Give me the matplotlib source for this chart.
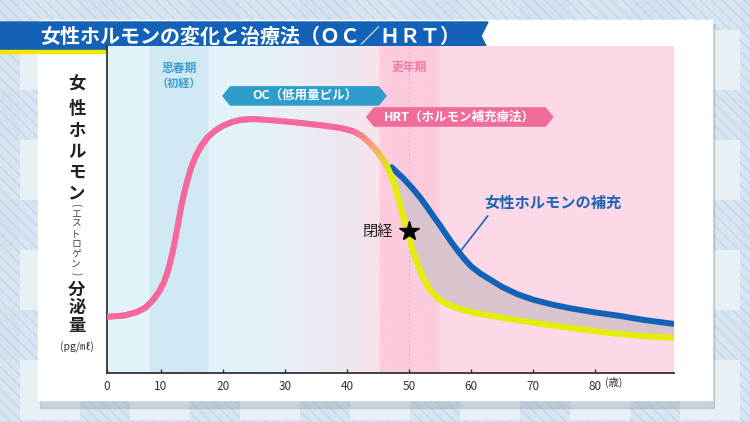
import numpy as np
import matplotlib.pyplot as plt
from matplotlib.collections import LineCollection
from matplotlib.patches import Rectangle, Polygon
from matplotlib.colors import to_rgb

plt.rcParams['font.family'] = ['Noto Sans CJK JP', 'DejaVu Sans']

# estrogen level (relative) by age - natural course
age_main = [1.3, 4, 6, 7.5, 8.7, 9.7, 10.5, 11.2, 11.9, 12.6, 13.3, 14, 14.8, 15.6,
            16.5, 17.5, 18.7, 20, 21.5, 23, 25, 28, 32, 36, 39, 41, 42.5, 43.7,
            44.8, 45.8, 46.6, 47.4, 48.2, 49, 49.8, 50.6, 51.5, 52.5, 53.5, 54.7,
            56.1, 58, 60.3, 63, 66, 71, 77, 82, 87, 92.7]
level_main = [17.6, 18.0, 19.0, 20.5, 22.8, 25.5, 28.5, 32.5, 38.0, 45.0, 52.5, 58.5,
              64.0, 68.0, 71.2, 73.8, 75.9, 77.5, 78.7, 79.4, 79.6, 79.2, 78.5, 77.6,
              76.8, 75.8, 74.2, 72.0, 69.6, 67.0, 64.2, 60.5, 55.5, 49.5, 44.0, 38.5,
              33.5, 29.0, 25.8, 23.3, 21.6, 20.2, 19.0, 18.0, 17.0, 15.5, 13.9, 12.6,
              11.7, 11.0]
# with hormone replacement
age_hrt = [47.2, 48, 49, 50, 51, 52, 53, 54, 55, 56, 57, 58, 59, 60, 61.5, 63, 65,
           67.5, 70, 73, 76, 80, 84, 88, 92.7]
level_hrt = [64.5, 63.0, 61.2, 59.1, 56.9, 54.5, 51.8, 49.0, 46.3, 43.4, 40.6, 38.0,
             35.6, 33.5, 31.2, 29.4, 27.0, 24.7, 23.0, 21.5, 20.3, 19.0, 17.9, 16.6, 15.4]

tick_ages = [10, 20, 30, 40, 50, 60, 70, 80]
puberty = (8.2, 17.6)
menopause_span = (45.3, 55.0)
menopause_age = 50
menopause_level = 44.5

title = '女性ホルモンの変化と治療法（ＯＣ／ＨＲＴ）'

W, H = 750, 422
fig = plt.figure(figsize=(7.5, 4.22), dpi=100)

# ---- decorative background (pixel coords) ----
bg = fig.add_axes([0, 0, 1, 1])
bg.set_xlim(0, W)
bg.set_ylim(H, 0)
bg.axis('off')
bg.add_patch(Rectangle((0, 0), W, H, color='#e8f0f6', zorder=0))
for x0 in range(-30, W, 110):
    bg.add_patch(Rectangle((x0, 0), 50, H, facecolor='#d3e2ef', edgecolor='#bcd2e7',
                           hatch='\\\\\\', lw=0, alpha=0.75, zorder=1))
for y0 in range(-20, H, 110):
    bg.add_patch(Rectangle((0, y0), W, 50, facecolor='#d3e2ef', edgecolor='#bcd2e7',
                           hatch='\\\\\\', lw=0, alpha=0.75, zorder=1))
bg.add_patch(Rectangle((40, 24), 674, 384, color='#8c9aa8', alpha=0.35, zorder=2))
bg.add_patch(Rectangle((38, 20), 674, 380, color='white', zorder=3))
bg.add_patch(Polygon([(0, 22), (488, 22), (481, 36), (488, 50), (0, 50)],
                     color='#1462b8', zorder=4))
bg.add_patch(Rectangle((0, 50), 488, 3, color='#f2e600', zorder=4))
bg.text(40, 36.5, title, color='white', fontsize=14.4, fontweight='bold',
        va='center', ha='left', zorder=5)

# vertical y label
for ch, y in zip('女性ホルモン', [85, 109, 131, 152, 173, 193]):
    bg.text(77, y, ch, fontsize=12.5, fontweight='bold', color='#222',
            ha='center', va='center', zorder=5)
bg.text(76, 205, '(', fontsize=7, color='#444', rotation=-90,
        ha='center', va='center', zorder=5)
for ch, y in zip('エストロゲン', [214, 224, 234, 244, 254, 264]):
    bg.text(76, y, ch, fontsize=7, color='#444', ha='center', va='center', zorder=5)
bg.text(76, 274, ')', fontsize=7, color='#444', rotation=-90,
        ha='center', va='center', zorder=5)
for ch, y in zip('分泌量', [290, 308, 326]):
    bg.text(77, y, ch, fontsize=12.5, fontweight='bold', color='#222',
            ha='center', va='center', zorder=5)
bg.text(77, 347, '(pg/㎖)', fontsize=7.5, color='#333', ha='center', va='center', zorder=5)
bg.text(614, 382, '(歳)', fontsize=7.5, color='#333', ha='center', va='center', zorder=5)

# ---- chart ----
x0, x1 = 1.3, 92.75
y0, y1 = 0, 102.5
ax = fig.add_axes([107 / W, (H - 373) / H, (674 - 107) / W, (373 - 46) / H])
ax.set_xlim(x0, x1)
ax.set_ylim(y0, y1)
ax.patch.set_alpha(0)

# background gradient
stops = [(0, '#e3f4fb'), (26, '#e5f3fa'), (36, '#eceaf3'), (45.2, '#f6e2ed'),
         (55.1, '#fdd9e8'), (100, '#fdd9e8')]
gx = np.linspace(x0, x1, 900)
cols = np.array([to_rgb(c) for _, c in stops])
pos = [s for s, _ in stops]
img = np.stack([np.interp(gx, pos, cols[:, k]) for k in range(3)], axis=-1)
band_p = (gx >= puberty[0]) & (gx < puberty[1])
img[band_p] = to_rgb('#d1e9f3')
band_m = (gx >= menopause_span[0]) & (gx < menopause_span[1])
img[band_m] = to_rgb('#fccbde')
ax.imshow(img[np.newaxis, :, :], extent=(x0, x1, y0, y1), aspect='auto', zorder=0)
ax.axvline(menopause_age, color='#f2a9c4', lw=0.8, ls=(0, (2, 2)), zorder=1)

# shaded gap between HRT and natural curve
ax.fill_between(age_hrt, level_hrt, np.interp(age_hrt, age_main, level_main),
                color='#d9c4cd', lw=0, zorder=2)
ax.plot(age_hrt, level_hrt, color='#1462b8', lw=4.3, solid_capstyle='round',
        solid_joinstyle='round', zorder=3)

# natural curve with pink -> yellow gradient
segs, seg_cols = [], []
cstops = [(0, '#f7689c'), (41, '#f7689c'), (44.3, '#f8a27a'), (47.2, '#e2ee0a'), (100, '#e2ee0a')]
cpos = [s for s, _ in cstops]
crgb = np.array([to_rgb(c) for _, c in cstops])
for i in range(len(age_main) - 1):
    xs = np.linspace(age_main[i], age_main[i + 1], 7)
    ys = np.linspace(level_main[i], level_main[i + 1], 7)
    for j in range(6):
        segs.append([(xs[j], ys[j]), (xs[j + 1], ys[j + 1])])
        xm = (xs[j] + xs[j + 1]) / 2
        seg_cols.append([np.interp(xm, cpos, crgb[:, k]) for k in range(3)])
lc = LineCollection(segs, colors=seg_cols, linewidths=4.3, capstyle='round',
                    joinstyle='round', zorder=4)
ax.add_collection(lc)

# menopause star
ax.plot([menopause_age], [menopause_level], marker='*', color='black', ms=15, zorder=5)
ax.text(47.4, menopause_level, '閉経', fontsize=11, color='#222', ha='right', va='center')

# phase labels
ax.text(12.9, 95.6, '思春期', fontsize=8.5, fontweight='bold', color='#3b9fcf',
        ha='center', va='center')
ax.text(12.9, 90.8, '（初経）', fontsize=8, fontweight='bold', color='#3b9fcf',
        ha='center', va='center')
ax.text(50, 95.9, '更年期', fontsize=8.5, fontweight='bold', color='#f27aa2',
        ha='center', va='center')

# OC / HRT banners
def banner(xa, xb, ya, yb, color, label):
    ym = (ya + yb) / 2
    tip = 1.2
    ax.add_patch(Polygon([(xa, ym), (xa + tip, yb), (xb - tip, yb), (xb, ym),
                          (xb - tip, ya), (xa + tip, ya)], color=color, zorder=6))
    ax.text((xa + xb) / 2, ym - 0.2, label, fontsize=9, fontweight='bold', color='white',
            ha='center', va='center', zorder=7)

banner(20.0, 46.3, 84.0, 89.7, '#2e9dcb', 'OC（低用量ピル）')
banner(43.2, 73.2, 77.4, 83.1, '#f06c9b', 'HRT（ホルモン補充療法）')

# HRT annotation
ax.text(73.2, 53.3, '女性ホルモンの補充', fontsize=11, fontweight='bold', color='#1e63b4',
        ha='center', va='center')
ax.plot([62.7, 58.4], [49.2, 38.4], color='#1e63b4', lw=1.2, zorder=5)

# axes styling
ax.set_xticks([x0] + tick_ages)
ax.set_xticklabels(['0'] + [str(a) for a in tick_ages])
ax.set_yticks([])
ax.tick_params(axis='x', direction='in', length=3, width=1, colors='#333',
               labelsize=8.5, pad=5)
for s in ['top', 'right']:
    ax.spines[s].set_visible(False)
for s in ['left', 'bottom']:
    ax.spines[s].set_color('#333')
    ax.spines[s].set_linewidth(1.3)

fig.savefig('out.png', dpi=100)
